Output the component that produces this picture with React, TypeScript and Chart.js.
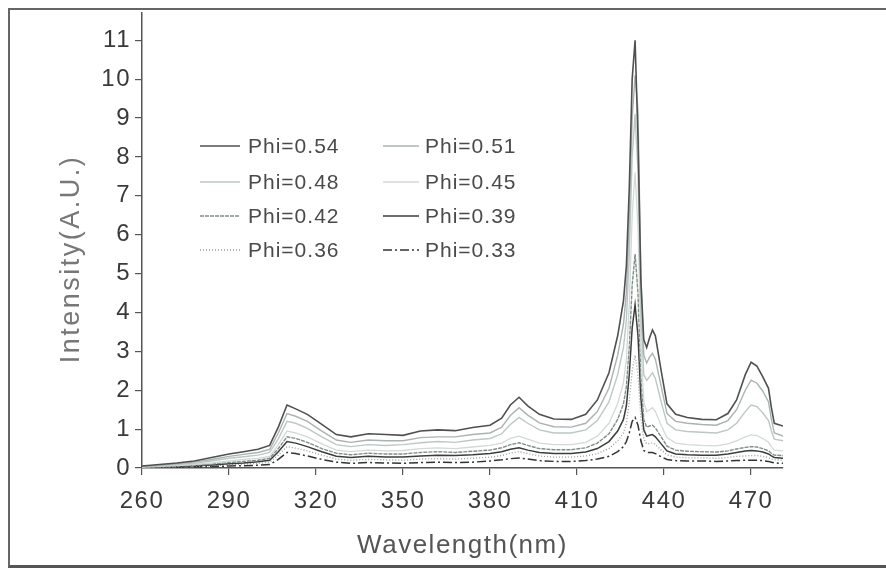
import React, { useEffect, useRef } from "react";
import { Chart, registerables } from "chart.js";

Chart.register(...registerables);

const WAVELENGTHS = [260,266,272,278,284,290,295,300,304,307,310,313,317,322,327,332,338,344,350,356,362,368,374,380,384,387,390,393,397,402,408,413,417,421,424,426,427,428,429,430,431,432,433,434,435,436,437,439,441,444,448,453,458,462,465,468,470,472,474,476,477,478,481];

const PHI_054 = [0.05,0.09,0.13,0.18,0.27,0.36,0.42,0.48,0.58,1.05,1.62,1.52,1.38,1.12,0.86,0.8,0.88,0.86,0.84,0.95,0.98,0.96,1.04,1.1,1.28,1.62,1.82,1.6,1.38,1.26,1.25,1.38,1.75,2.45,3.4,4.3,5.2,7.2,10.0,11.0,8.5,4.8,3.3,3.1,3.35,3.55,3.4,2.5,1.65,1.38,1.3,1.25,1.24,1.4,1.75,2.4,2.72,2.62,2.35,2.05,1.55,1.15,1.08];
const PHI_051 = [0.04,0.07,0.11,0.15,0.22,0.3,0.35,0.4,0.48,0.9,1.4,1.33,1.2,0.95,0.72,0.66,0.72,0.7,0.7,0.78,0.8,0.8,0.86,0.9,1.05,1.35,1.55,1.36,1.16,1.06,1.05,1.15,1.45,2.05,2.9,3.7,4.5,6.4,9.0,10.1,9.2,5.0,2.9,2.7,2.85,2.95,2.8,2.1,1.4,1.2,1.15,1.12,1.1,1.22,1.5,2.0,2.26,2.18,1.98,1.7,1.25,0.9,0.82];
const PHI_048 = [0.03,0.06,0.09,0.12,0.18,0.25,0.29,0.33,0.4,0.75,1.2,1.15,1.02,0.8,0.6,0.55,0.6,0.58,0.6,0.65,0.68,0.66,0.72,0.76,0.88,1.12,1.3,1.15,0.98,0.9,0.9,0.98,1.22,1.7,2.4,3.1,3.8,5.5,8.0,9.1,7.6,4.0,2.4,2.25,2.35,2.45,2.3,1.7,1.15,0.98,0.94,0.92,0.9,0.98,1.15,1.45,1.62,1.58,1.42,1.22,0.95,0.74,0.7];
const PHI_045 = [0.02,0.04,0.06,0.09,0.13,0.18,0.22,0.25,0.3,0.6,0.95,0.9,0.8,0.62,0.46,0.42,0.46,0.44,0.45,0.5,0.52,0.5,0.54,0.58,0.64,0.76,0.82,0.74,0.64,0.6,0.6,0.66,0.82,1.15,1.65,2.2,2.8,4.2,6.5,7.6,6.2,3.2,1.7,1.45,1.5,1.55,1.45,1.1,0.78,0.64,0.6,0.58,0.57,0.62,0.7,0.8,0.85,0.83,0.76,0.66,0.55,0.46,0.44];
const PHI_042 = [0.02,0.03,0.05,0.07,0.1,0.14,0.17,0.2,0.25,0.5,0.8,0.76,0.66,0.5,0.38,0.34,0.38,0.36,0.36,0.4,0.42,0.4,0.43,0.46,0.52,0.6,0.65,0.58,0.5,0.47,0.47,0.52,0.64,0.88,1.25,1.65,2.1,3.1,4.7,5.5,4.5,2.3,1.25,1.05,1.08,1.1,1.03,0.8,0.56,0.46,0.43,0.42,0.41,0.44,0.49,0.53,0.55,0.54,0.5,0.44,0.38,0.33,0.32];
const PHI_039 = [0.01,0.03,0.04,0.06,0.08,0.11,0.13,0.16,0.2,0.42,0.68,0.64,0.55,0.42,0.3,0.27,0.3,0.28,0.28,0.31,0.33,0.32,0.34,0.37,0.42,0.48,0.52,0.46,0.4,0.37,0.37,0.41,0.5,0.68,0.95,1.25,1.6,2.4,3.6,4.2,3.4,1.8,0.98,0.82,0.84,0.86,0.8,0.62,0.44,0.36,0.34,0.33,0.33,0.36,0.4,0.44,0.45,0.44,0.41,0.36,0.31,0.27,0.25];
const PHI_036 = [0.01,0.02,0.03,0.04,0.06,0.08,0.1,0.12,0.15,0.33,0.55,0.51,0.44,0.33,0.23,0.2,0.22,0.21,0.2,0.23,0.24,0.23,0.25,0.28,0.32,0.38,0.42,0.37,0.31,0.28,0.28,0.31,0.37,0.5,0.7,0.9,1.15,1.7,2.5,2.9,2.4,1.3,0.74,0.62,0.63,0.65,0.6,0.46,0.34,0.28,0.26,0.26,0.25,0.27,0.3,0.31,0.32,0.32,0.3,0.27,0.23,0.21,0.2];
const PHI_033 = [0.0,0.01,0.02,0.03,0.04,0.05,0.06,0.07,0.09,0.22,0.4,0.37,0.31,0.22,0.15,0.12,0.14,0.13,0.12,0.14,0.15,0.14,0.15,0.18,0.21,0.24,0.26,0.23,0.19,0.17,0.17,0.19,0.23,0.3,0.42,0.55,0.68,0.9,1.2,1.3,1.1,0.7,0.45,0.4,0.4,0.4,0.37,0.29,0.22,0.19,0.18,0.18,0.17,0.18,0.19,0.2,0.2,0.2,0.19,0.17,0.15,0.13,0.12];

const SERIES_LABELS = ["Phi=0.54","Phi=0.51","Phi=0.48","Phi=0.45","Phi=0.42","Phi=0.39","Phi=0.36","Phi=0.33"];
const SERIES_VALUES = [PHI_054, PHI_051, PHI_048, PHI_045, PHI_042, PHI_039, PHI_036, PHI_033];

const X_TICKS = [260, 290, 320, 350, 380, 410, 440, 470];
const Y_TICKS = [0,1,2,3,4,5,6,7,8,9,10,11];
const X_TITLE = "Wavelength(nm)";
const Y_TITLE = "Intensity(A.U.)";

const STYLES = [
  { color: "#505050", dash: [] as number[], width: 1.6 },
  { color: "#a9b3b3", dash: [] as number[], width: 1.4 },
  { color: "#bcc8c4", dash: [] as number[], width: 1.4 },
  { color: "#d4d8d8", dash: [] as number[], width: 1.3 },
  { color: "#7f8f86", dash: [4, 1] as number[], width: 1.4 },
  { color: "#3c3c3c", dash: [] as number[], width: 1.5 },
  { color: "#9aa0a0", dash: [1, 2] as number[], width: 1.4 },
  { color: "#333333", dash: [9, 3, 2, 3] as number[], width: 1.5 },
];

const FONT = "'Liberation Sans', Arial, sans-serif";

const textPlugin = {
  id: "textExtras",
  beforeDraw(chart: any) {
    (chart.ctx as any).letterSpacing = "1.5px";
  },
  afterDatasetsDraw(chart: any) {
    const ctx = chart.ctx;
    const cols = [
      { x1: 200, x2: 240, tx: 248 },
      { x1: 383, x2: 419, tx: 425 },
    ];
    const rows = [146, 182, 216, 250];
    ctx.save();
    chart.data.datasets.forEach((ds: any, i: number) => {
      const c = cols[i % 2];
      const y = rows[Math.floor(i / 2)];
      ctx.beginPath();
      ctx.strokeStyle = ds.borderColor;
      ctx.lineWidth = ds.borderWidth;
      ctx.setLineDash(ds.borderDash || []);
      ctx.moveTo(c.x1, y);
      ctx.lineTo(c.x2, y);
      ctx.stroke();
      ctx.setLineDash([]);
      ctx.fillStyle = "#4a4a4a";
      (ctx as any).letterSpacing = "1px";
      ctx.font = `21px ${FONT}`;
      ctx.textBaseline = "middle";
      ctx.textAlign = "left";
      ctx.fillText(ds.label, c.tx, y + 1);
    });
    ctx.restore();
  },
  afterDraw(chart: any) {
    const ctx = chart.ctx;
    ctx.save();
    (ctx as any).letterSpacing = "2.5px";
    ctx.translate(72, 259);
    ctx.rotate(-Math.PI / 2);
    ctx.fillStyle = "#777";
    ctx.font = `27px ${FONT}`;
    ctx.textAlign = "center";
    ctx.textBaseline = "middle";
    ctx.fillText(Y_TITLE, 0, 0);
    ctx.restore();
  },
};

export default function App() {
  const ref = useRef<HTMLCanvasElement | null>(null);

  useEffect(() => {
    if (!ref.current) return;
    const datasets = SERIES_LABELS.map((label, i) => ({
      label,
      data: WAVELENGTHS.map((w, j) => ({ x: w, y: SERIES_VALUES[i][j] })),
      borderColor: STYLES[i].color,
      borderDash: STYLES[i].dash,
      borderWidth: STYLES[i].width,
      pointRadius: 0,
      tension: 0,
      fill: false,
    }));
    const chart = new Chart(ref.current, {
      type: "line",
      data: { datasets },
      options: {
        animation: false,
        responsive: false,
        maintainAspectRatio: false,
        layout: { padding: { left: 0, top: 13, right: 103, bottom: 0 } },
        plugins: { legend: { display: false }, tooltip: { enabled: false } },
        scales: {
          x: {
            type: "linear",
            min: 260,
            max: 481,
            afterBuildTicks: (s: any) => { s.ticks = X_TICKS.map((v) => ({ value: v })); },
            afterFit: (s: any) => { s.height = 103; s.paddingLeft = 0; s.paddingRight = 0; },
            grid: { drawOnChartArea: false, drawTicks: true, tickLength: 7, color: "#555", lineWidth: 1.2 },
            border: { display: true, color: "#555", width: 1.5 },
            ticks: { color: "#3a3a3a", font: { family: FONT, size: 24 }, padding: 12, maxRotation: 0, autoSkip: false },
            title: { display: true, text: X_TITLE, color: "#555", font: { family: FONT, size: 26 }, padding: { top: 0, bottom: 10 } },
          },
          y: {
            type: "linear",
            min: 0,
            max: 11.7,
            afterBuildTicks: (s: any) => { s.ticks = Y_TICKS.map((v) => ({ value: v })); },
            afterFit: (s: any) => { s.width = 142; s.paddingTop = 0; s.paddingBottom = 0; },
            grid: { drawOnChartArea: false, drawTicks: true, tickLength: 7, color: "#555", lineWidth: 1.2 },
            border: { display: true, color: "#555", width: 1.5 },
            ticks: { color: "#3a3a3a", font: { family: FONT, size: 24 }, padding: 4, autoSkip: false },
            title: { display: false },
          },
        },
      },
      plugins: [textPlugin],
    });
    return () => chart.destroy();
  }, []);

  return (
    <div>
      <div
        style={{
          position: "absolute",
          left: 8,
          top: 8,
          width: 878,
          height: 560,
          boxSizing: "border-box",
          borderLeft: "2px solid #666",
          borderTop: "2px solid #666",
          borderBottom: "3px solid #555",
        }}
      />
      <div style={{ position: "absolute", left: 0, top: 0, width: 886, height: 571 }}>
        <canvas ref={ref} width={886} height={571} style={{ display: "block", width: 886, height: 571 }} />
      </div>
    </div>
  );
}
